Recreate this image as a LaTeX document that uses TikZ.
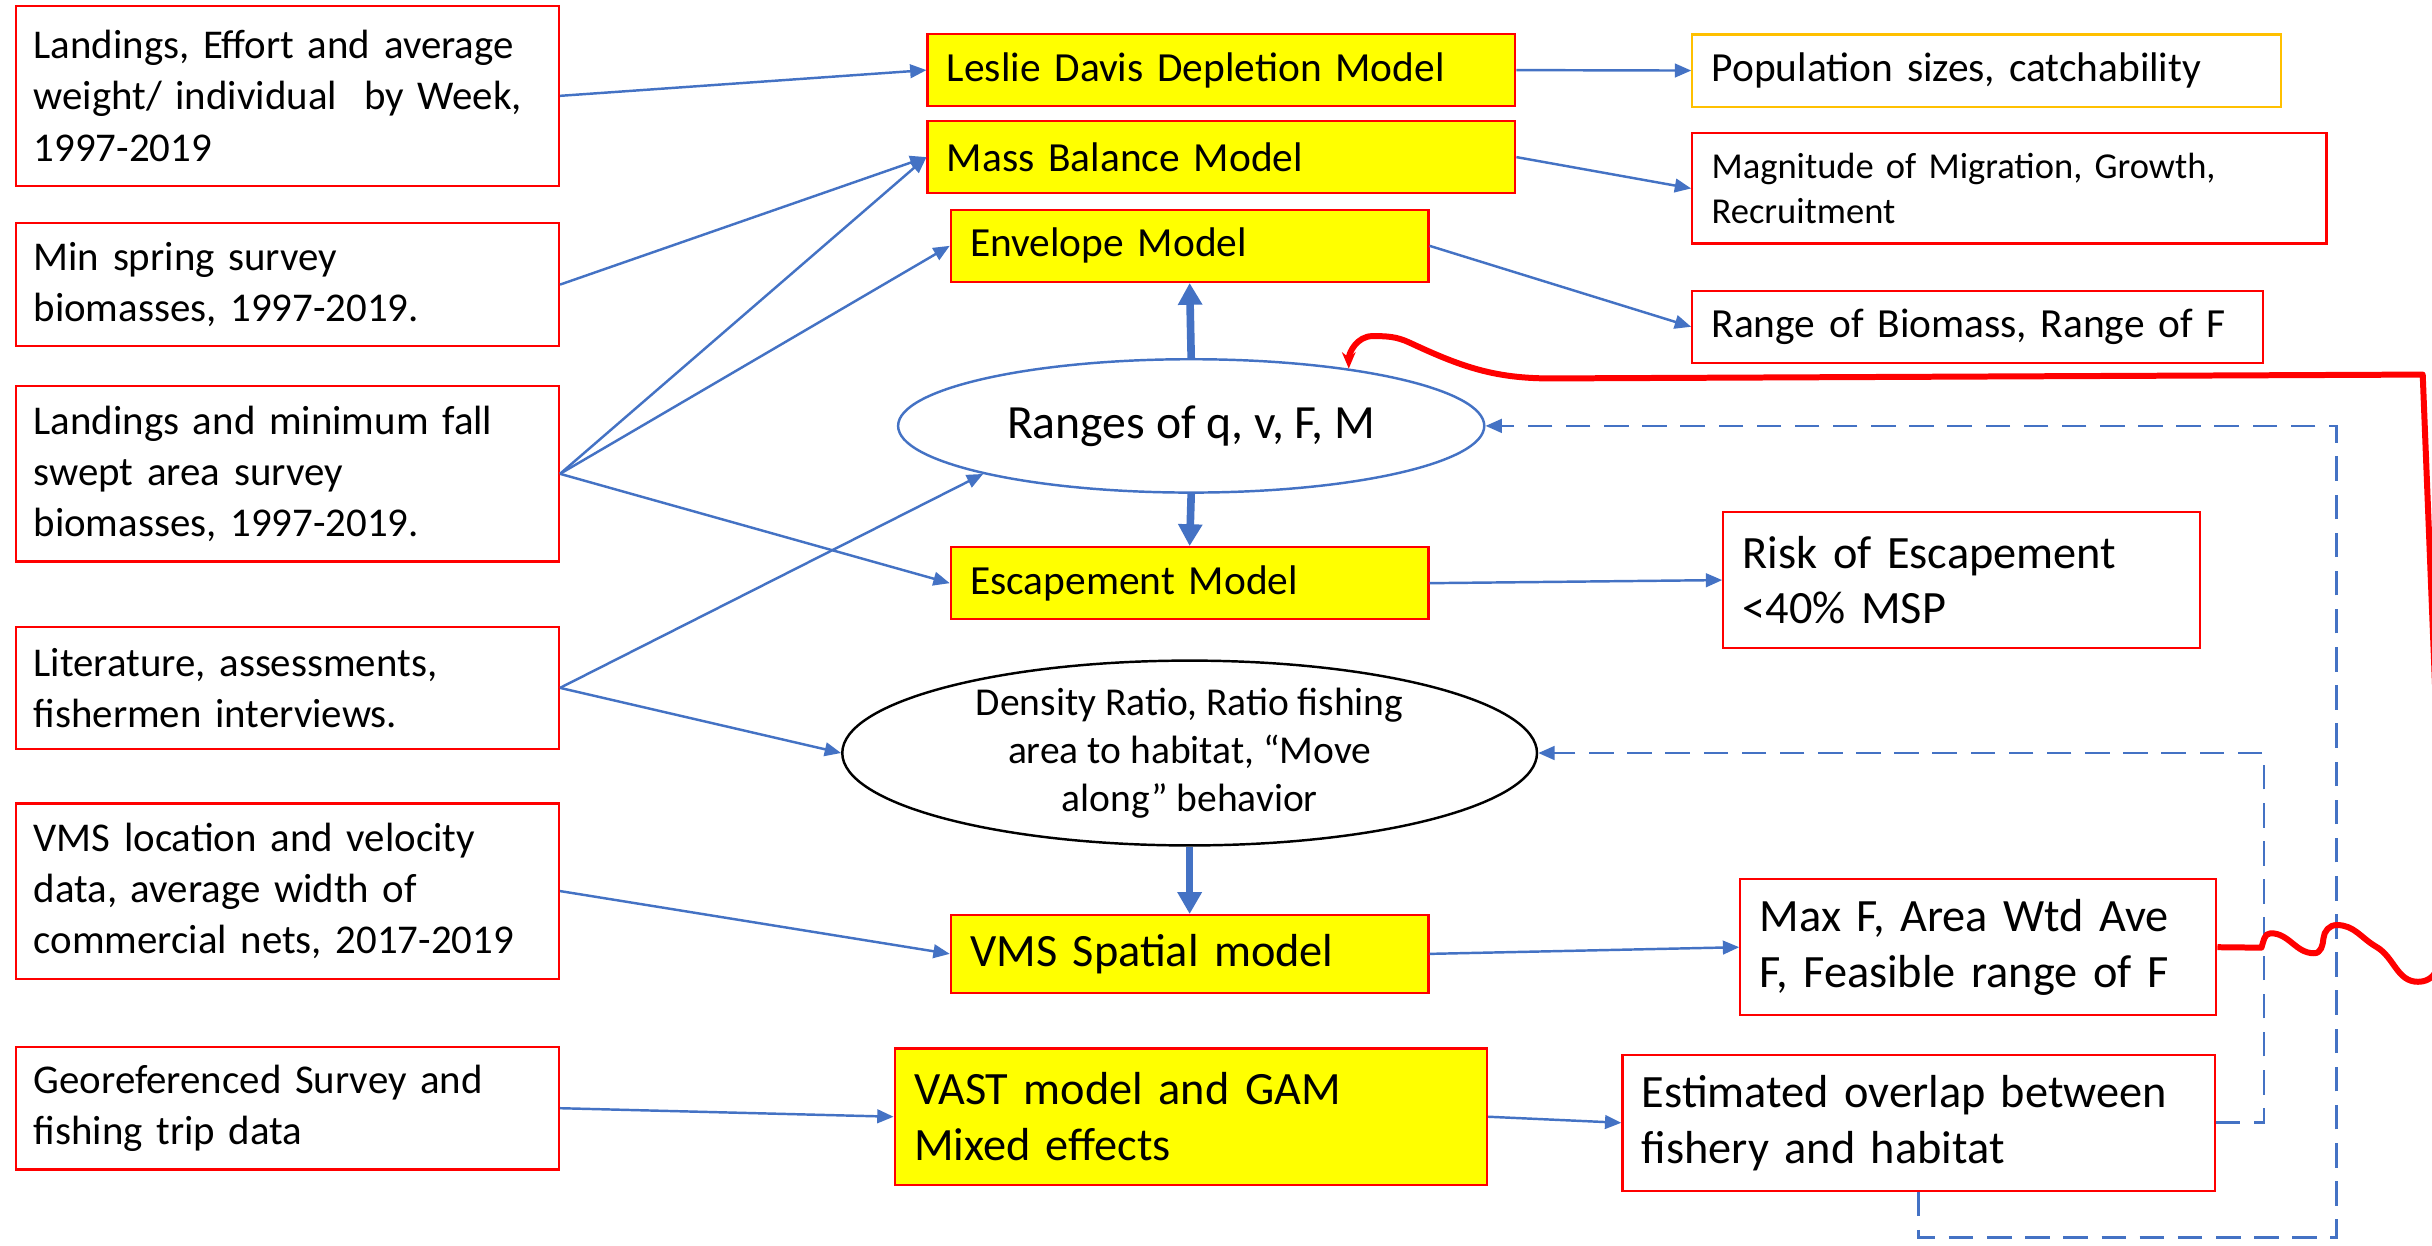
\documentclass[tikz,border=0pt]{standalone}
\usepackage{fontspec}
\setmainfont{Carlito}
\usetikzlibrary{arrows.meta,shapes.geometric}
\definecolor{ppblue}{HTML}{4472C4}
\definecolor{ppred}{HTML}{FF0000}
\definecolor{ppyellow}{HTML}{FFFF00}
\definecolor{pporange}{HTML}{FFC000}

\begin{document}
\begin{tikzpicture}[x=0.02cm, y=-0.02cm,
    inbox/.style={draw=ppred, fill=white, line width=0.8pt,
                text width=6.55cm, minimum height=#1, inner xsep=0.225cm,
                align=left, font=\fontsize{15}{18.8}\selectfont},
    model/.style={draw=ppred, fill=ppyellow, line width=0.8pt,
                text width=#1, minimum height=0.93cm, inner xsep=0.25cm,
                align=left, font=\fontsize{15.2}{18.5}\selectfont},
    outbox/.style={draw=ppred, fill=white, line width=0.8pt,
                text width=#1, minimum height=0.93cm, inner xsep=0.25cm,
                align=left, font=\fontsize{15.2}{18.5}\selectfont},
    big/.style={font=\fontsize{17}{20.5}\selectfont},
    oval/.style={ellipse, draw=#1, line width=0.9pt, fill=white,
                inner sep=0pt, align=center},
    feed/.style={draw=ppblue, line width=0.9pt,
                -{Triangle[length=6pt,width=5pt]}},
    bigarrow/.style={draw=ppblue, line width=2.8pt,
                -{Triangle[length=8pt,width=8.5pt]}},
    backloop/.style={draw=ppblue, line width=1pt, dash pattern=on 9pt off 5pt,
                -{Triangle[length=6pt,width=5pt]}},
    redloop/.style={draw=ppred, line width=2.2pt, line join=round,
                -{Stealth[length=6pt,width=5pt]}}]

  \path[use as bounding box, fill=white] (0,0) rectangle (1568,803);
  \clip (0,0) rectangle (1568,803);

  %% ── Data inputs (left column) ───────────────────────────────
  \node[inbox=2.32cm] (landWeek) at (185.4,61.8)
    {Landings, Effort and average\\weight/ individual\ \ by Week,\\1997-2019};
  \node[inbox=1.58cm] (springSv) at (185.4,183.5)
    {Min spring survey\\biomasses, 1997-2019.};
  \node[inbox=2.26cm] (fallSv) at (185.4,305.5)
    {Landings and minimum fall\\swept area survey\\biomasses, 1997-2019.};
  \node[inbox=1.58cm] (litRev) at (185.4,443.5)
    {Literature, assessments,\\fishermen interviews.};
  \node[inbox=2.26cm] (vmsData) at (185.4,574.5)
    {VMS location and velocity\\data, average width of\\commercial nets, 2017-2019};
  \node[inbox=1.58cm] (geoData) at (185.4,714.5)
    {Georeferenced Survey and\\fishing trip data};

  %% ── Models (middle column) ──────────────────────────────────
  \node[model=7.08cm] (leslie) at (787.5,45.2) {Leslie Davis Depletion Model};
  \node[model=7.08cm] (massBal) at (787.5,101.3) {Mass Balance Model};
  \node[model=5.66cm] (envelope) at (767,158.5) {Envelope Model};
  \node[oval=ppblue, minimum width=7.56cm, minimum height=1.72cm,
        font=\fontsize{17.5}{21}\selectfont] (ranges) at (768,274.6)
    {Ranges of q, v, F, M};
  \node[model=5.66cm] (escape) at (767,376) {Escapement Model};
  \node[oval=black, minimum width=8.96cm, minimum height=2.3cm,
        font=\fontsize{14.5}{17.7}\selectfont] (density) at (767,485.5)
    {Density Ratio, Ratio fishing\\area to habitat, “Move\\along” behavior};
  \node[model=5.66cm, big, minimum height=1.0cm] (vmsSp) at (767,615)
    {VMS Spatial model};
  \node[model=7.14cm, big, minimum height=1.76cm] (vast) at (767.8,720)
    {VAST model and GAM\\Mixed effects};

  %% ── Outputs (right column) ──────────────────────────────────
  \node[outbox=7.09cm, draw=pporange] (popSize) at (1280.8,45.5)
    {Population sizes, catchability};
  \node[outbox=7.68cm, minimum height=1.42cm,
        font=\fontsize{13.4}{16.5}\selectfont] (migr) at (1295.5,121.5)
    {Magnitude of Migration, Growth,\\Recruitment};
  \node[outbox=6.86cm] (rangeBF) at (1275,210.7)
    {Range of Biomass, Range of F};
  \node[outbox=5.65cm, big, minimum height=1.76cm] (riskEsc) at (1264.8,374)
    {Risk of Escapement\\<40\% MSP};
  \node[outbox=5.64cm, big, minimum height=1.75cm] (maxF) at (1275.5,610.7)
    {Max F, Area Wtd Ave\\F, Feasible range of F};
  \node[outbox=7.14cm, big, minimum height=1.75cm] (overlap) at (1237,723.9)
    {Estimated overlap between\\fishery and habitat};

  %% ── Inputs feeding the models ───────────────────────────────
  \draw[feed] (landWeek.east) -- (leslie.west);
  \draw[feed] (springSv.east) -- (massBal.west);
  \draw[feed] (fallSv.east) -- (massBal.west);
  \draw[feed] (fallSv.east) -- (envelope.west);
  \draw[feed] (fallSv.east) -- (escape.west);
  \draw[feed] (litRev.east) -- (ranges.193);
  \draw[feed] (litRev.east) -- (density.west);
  \draw[feed] (vmsData.east) -- (vmsSp.west);
  \draw[feed] (geoData.east) -- (vast.west);

  %% ── Models to outputs ───────────────────────────────────────
  \draw[feed] (leslie.east) -- (popSize.west);
  \draw[feed] (massBal.east) -- (migr.west);
  \draw[feed] (envelope.east) -- (rangeBF.west);
  \draw[feed] (escape.east) -- (riskEsc.west);
  \draw[feed] (vmsSp.east) -- (maxF.west);
  \draw[feed] (vast.east) -- (overlap.west);

  %% ── Parameter ranges drive the models ───────────────────────
  \draw[bigarrow] (ranges.north) -- (envelope.south);
  \draw[bigarrow] (ranges.south) -- (escape.north);
  \draw[bigarrow] (density.south) -- (vmsSp.north);

  %% ── Feedback loops (dashed) ─────────────────────────────────
  \coordinate (loopFoot) at (1506.5,798);
  \draw[backloop] (overlap.east) -- ++(31,0) |- (density.east);
  \draw[backloop] (overlap.south) |- (loopFoot) |- (ranges.east);

  %% Red feedback from F estimates back to the ranges
  \draw[redloop] (maxF.east) -- (1458,611)
    to[out=70,in=180] (1464,601.7)
    to[out=0,in=180] (1492,614.6)
    to[out=0,in=-95] (1498,605)
    to[out=85,in=180] (1506.6,596.4)
    to[out=0,in=150] (1532,610.4)
    to[out=-30,in=180] (1559,633)
    to[out=0,in=-95] (1576,595)
    -- (1562,241.5) -- (1000,244)
    to[out=180,in=-25] (909,221)
    to[out=155,in=0] (885,216.7)
    to[out=180,in=90] (ranges.20);

\end{tikzpicture}
\end{document}
